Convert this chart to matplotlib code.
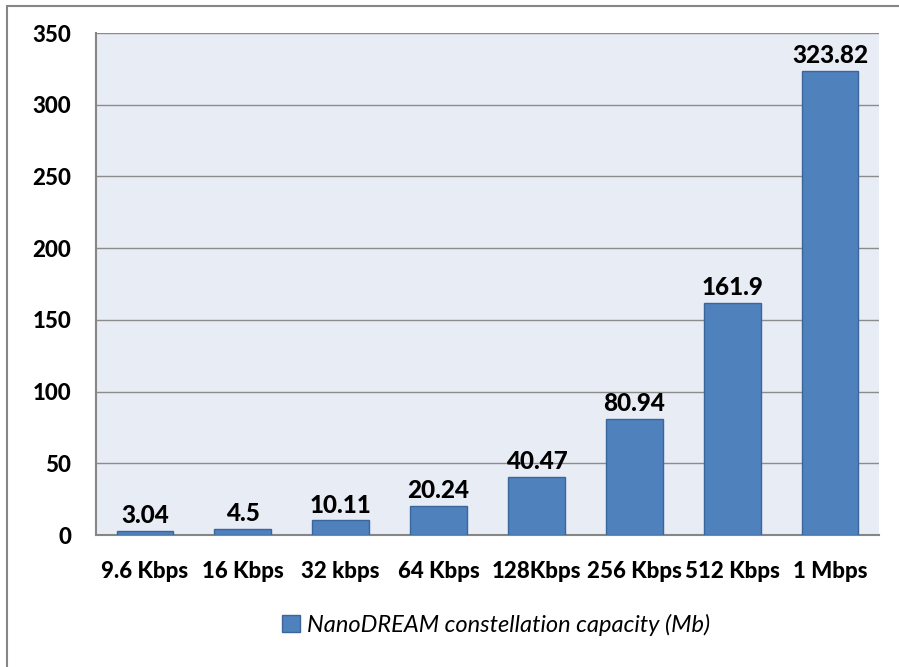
import numpy as np
import matplotlib.pyplot as plt
from matplotlib.patches import Rectangle

# data
rates = ['9.6 Kbps', '16 Kbps', '32 kbps', '64 Kbps', '128Kbps', '256 Kbps', '512 Kbps', '1 Mbps']
capacity = [3.04, 4.5, 10.11, 20.24, 40.47, 80.94, 161.9, 323.82]
value_labels = ['3.04', '4.5', '10.11', '20.24', '40.47', '80.94', '161.9', '323.82']
series_name = 'NanoDREAM constellation capacity (Mb)'

plt.rcParams['font.family'] = ['Lato', 'DejaVu Sans']

fig = plt.figure(figsize=(8.99, 6.67), dpi=100)
fig.patch.set_facecolor('white')

# outer chart border
fig.patches.append(Rectangle((7 / 899, -0.1), 1.2, 1.1 - 5.5 / 667, transform=fig.transFigure,
                             fill=False, edgecolor='#868686', linewidth=1.5, zorder=0))

ax = fig.add_axes([96 / 899, 1 - 535 / 667, 783 / 899, (535 - 33) / 667])
ax.set_facecolor('#E8ECF4')

x = np.arange(len(rates))
bars = ax.bar(x, capacity, width=0.58, color='#4F81BD', edgecolor='#3A679B', linewidth=1.0,
              label=series_name, zorder=3)

for xi, v, lab in zip(x, capacity, value_labels):
    ax.text(xi, v + 2.5, lab, ha='center', va='bottom', fontsize=17.5, fontweight='black', color='black')

ax.set_xlim(-0.5, len(rates) - 0.5)
ax.set_ylim(0, 350)
ax.set_yticks(np.arange(0, 351, 50))
ax.set_xticks(x)
ax.set_xticklabels(rates)
ax.grid(axis='y', color='#8C8C8C', linewidth=1.0, zorder=1)
ax.set_axisbelow(True)

for s in ['top', 'right']:
    ax.spines[s].set_visible(False)
for s in ['left', 'bottom']:
    ax.spines[s].set_color('#868686')
    ax.spines[s].set_linewidth(1.5)

ax.tick_params(axis='both', length=0, labelsize=16)
ax.tick_params(axis='x', pad=19)
ax.tick_params(axis='y', pad=18)
for t in ax.get_xticklabels() + ax.get_yticklabels():
    t.set_fontweight('black')

leg = fig.legend(handles=[bars], labels=[series_name], loc='center', bbox_to_anchor=(496 / 899, 1 - 625 / 667),
                 frameon=False, prop={'style': 'italic', 'size': 17}, handlelength=0.75, handleheight=0.75,
                 handletextpad=0.3)

fig.savefig('out.png', dpi=100)
